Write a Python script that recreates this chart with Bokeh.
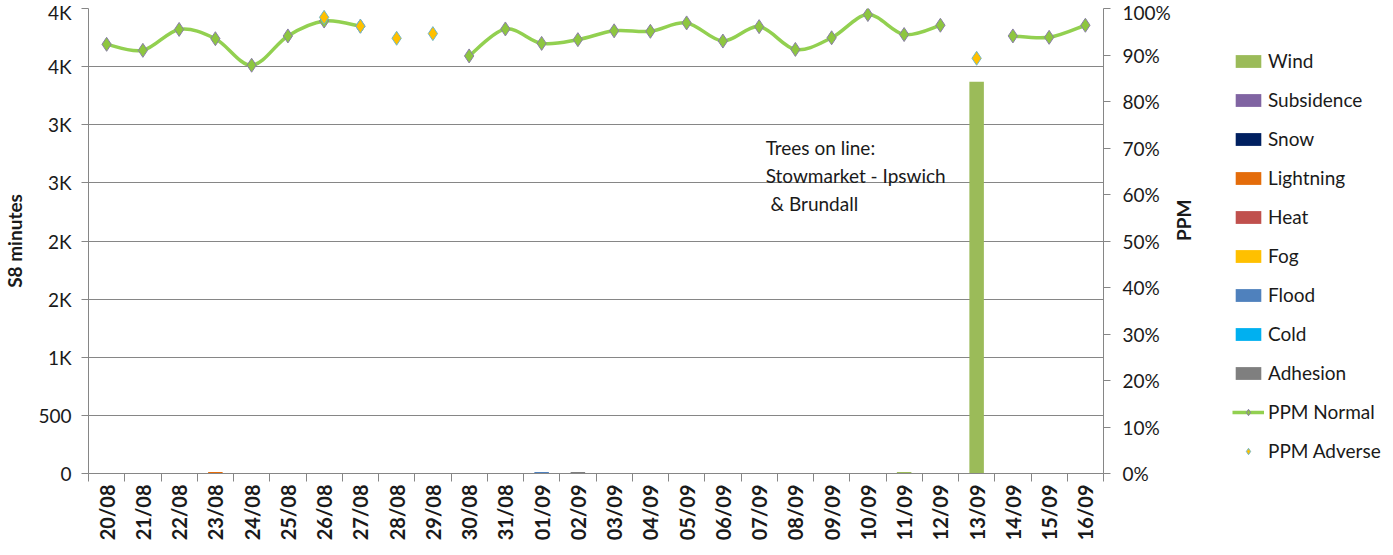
import math
from bokeh.plotting import figure
from bokeh.layouts import row
from bokeh.models import (FactorRange, Range1d, LinearAxis, FixedTicker,
                          Legend, LegendItem, Label, ColumnDataSource)
from bokeh.embed import file_html
from bokeh.resources import INLINE

NaN = float("nan")

dates = ["20/08", "21/08", "22/08", "23/08", "24/08", "25/08", "26/08", "27/08",
         "28/08", "29/08", "30/08", "31/08", "01/09", "02/09", "03/09", "04/09",
         "05/09", "06/09", "07/09", "08/09", "09/09", "10/09", "11/09", "12/09",
         "13/09", "14/09", "15/09", "16/09"]

# S8 minutes by cause
wind       = [0, 0, 0, 0, 0, 0, 0, 0, 0, 0, 0, 0, 0, 0, 0, 0, 0, 0, 0, 0, 0, 0, 12, 0, 3370, 0, 0, 0]
subsidence = [0] * 28
snow       = [0] * 28
lightning  = [0, 0, 0, 12, 0, 0, 0, 0, 0, 0, 0, 0, 0, 0, 0, 0, 0, 0, 0, 0, 0, 0, 0, 0, 0, 0, 0, 0]
heat       = [0] * 28
fog        = [0] * 28
flood      = [0, 0, 0, 0, 0, 0, 0, 0, 0, 0, 0, 0, 12, 0, 0, 0, 0, 0, 0, 0, 0, 0, 0, 0, 0, 0, 0, 0]
cold       = [0] * 28
adhesion   = [0, 0, 0, 0, 0, 0, 0, 0, 0, 0, 0, 0, 0, 12, 0, 0, 0, 0, 0, 0, 0, 0, 0, 0, 0, 0, 0, 0]

# PPM (%)
ppm_normal = [92.3, 91.0, 95.5, 93.5, 87.8, 94.1, 97.3, 96.2, NaN, NaN, 89.8, 95.6,
              92.5, 93.3, 95.2, 95.1, 96.9, 93.0, 96.1, 91.2, 93.7, 98.7, 94.4, 96.4,
              NaN, 94.1, 93.8, 96.4]
ppm_adverse = [NaN, NaN, NaN, NaN, NaN, NaN, 98.1, 96.2, 93.6, 94.6, NaN, NaN,
               NaN, NaN, NaN, NaN, NaN, NaN, NaN, NaN, NaN, NaN, NaN, NaN,
               89.3, NaN, NaN, NaN]
ppm_extreme = [NaN] * 28

y_ticks = [0, 500, 1000, 1500, 2000, 2500, 3000, 3500, 4000]
y_tick_labels = ["0", "500", "1K", "2K", "2K", "3K", "3K", "4K", "4K"]
ppm_ticks = [0, 10, 20, 30, 40, 50, 60, 70, 80, 90, 100]
ppm_tick_labels = ["0%", "10%", "20%", "30%", "40%", "50%", "60%", "70%", "80%", "90%", "100%"]

causes = ["Wind", "Subsidence", "Snow", "Lightning", "Heat", "Fog", "Flood", "Cold", "Adhesion"]
cause_values = [wind, subsidence, snow, lightning, heat, fog, flood, cold, adhesion]
cause_colors = ["#9BBB59", "#8064A2", "#002060", "#E46C0A", "#C0504D", "#FFC000",
                "#4F81BD", "#00B0F0", "#7F7F7F"]

FONT = "Lato"
GRID = "#868686"
TXT = "#1a1a1a"
LINE_C = "#92D050"
NORM_FILL, NORM_EDGE = "#8DC63F", "#8A7FA6"
ADV_FILL, ADV_EDGE = "#FFC000", "#6FB7C9"
EXT_C = "#FF0000"

p = figure(x_range=FactorRange(factors=dates), y_range=Range1d(0, 4000),
           frame_width=1015, frame_height=465, output_backend="svg", toolbar_location=None,
           x_axis_location=None, min_border_left=10, min_border_right=0,
           min_border_top=8, min_border_bottom=0)
p.outline_line_color = None
p.xgrid.visible = False
p.ygrid.ticker = FixedTicker(ticks=y_ticks)
p.ygrid.grid_line_color = GRID
p.extra_y_ranges = {"ppm": Range1d(0, 100)}

# left axis
ya = p.yaxis[0]
ya.ticker = FixedTicker(ticks=y_ticks)
ya.major_label_overrides = {t: l for t, l in zip(y_ticks, y_tick_labels)}
ya.major_tick_out = 7
ya.major_tick_in = 0
ya.minor_tick_line_color = None
ya.axis_line_color = GRID
ya.major_tick_line_color = GRID
ya.major_label_text_font = FONT
ya.major_label_text_font_size = "19px"
ya.major_label_text_color = TXT
ya.major_label_standoff = 10
ya.axis_label = "S8 minutes"
ya.axis_label_text_font = FONT
ya.axis_label_text_font_size = "19px"
ya.axis_label_text_font_style = "bold"
ya.axis_label_text_color = TXT
ya.axis_label_standoff = 9

# right axis
ra = LinearAxis(y_range_name="ppm", ticker=FixedTicker(ticks=ppm_ticks),
                major_label_overrides={t: l for t, l in zip(ppm_ticks, ppm_tick_labels)},
                major_tick_out=7, major_tick_in=0, minor_tick_line_color=None,
                axis_line_color=GRID, major_tick_line_color=GRID,
                major_label_text_font=FONT, major_label_text_font_size="19px",
                major_label_text_color=TXT, major_label_standoff=12,
                axis_label="PPM", axis_label_text_font=FONT, axis_label_text_font_size="19px",
                axis_label_text_font_style="bold", axis_label_text_color=TXT,
                axis_label_standoff=10, axis_label_orientation=math.pi / 2)
p.add_layout(ra, "right")

# bottom axis: labels at category centres, tick marks at category boundaries
n = len(dates)
centres = [i + 0.5 for i in range(n)]
xa = LinearAxis(ticker=FixedTicker(ticks=centres, minor_ticks=list(range(n + 1))),
                major_label_overrides={c: d for c, d in zip(centres, dates)},
                major_label_orientation=math.pi / 2, major_tick_line_color=None,
                major_tick_in=0, major_tick_out=8,
                minor_tick_in=0, minor_tick_out=8, minor_tick_line_color=GRID,
                axis_line_color=GRID, major_label_standoff=3,
                major_label_text_font=FONT, major_label_text_font_size="20px",
                major_label_text_font_style="bold", major_label_text_color=TXT)
p.add_layout(xa, "below")

# stacked bars
data = {"dates": dates}
for c, v in zip(causes, cause_values):
    data[c] = v
src = ColumnDataSource(data)
p.vbar_stack(causes, x="dates", width=0.4, color=cause_colors, line_color=None, source=src)

# smooth PPM normal line (bezier segments between consecutive valid points)
def ok(i):
    return 0 <= i < n and not math.isnan(ppm_normal[i])
seg = dict(x0=[], y0=[], x1=[], y1=[], cx0=[], cy0=[], cx1=[], cy1=[])
k = 1.0 / 6.0
for i in range(n - 1):
    if not (ok(i) and ok(i + 1)):
        continue
    a = i - 1 if ok(i - 1) else i
    d = i + 2 if ok(i + 2) else i + 1
    seg["x0"].append(centres[i]); seg["y0"].append(ppm_normal[i])
    seg["x1"].append(centres[i + 1]); seg["y1"].append(ppm_normal[i + 1])
    seg["cx0"].append(centres[i] + k * (centres[i + 1] - centres[a]))
    seg["cy0"].append(ppm_normal[i] + k * (ppm_normal[i + 1] - ppm_normal[a]))
    seg["cx1"].append(centres[i + 1] - k * (centres[d] - centres[i]))
    seg["cy1"].append(ppm_normal[i + 1] - k * (ppm_normal[d] - ppm_normal[i]))
p.bezier(x0="x0", y0="y0", x1="x1", y1="y1", cx0="cx0", cy0="cy0", cx1="cx1", cy1="cy1",
         source=ColumnDataSource(seg), line_color=LINE_C, line_width=3.5, y_range_name="ppm")
p.scatter(x=dates, y=ppm_normal, marker="diamond", size=14, fill_color=NORM_FILL,
          line_color=NORM_EDGE, line_width=1, y_range_name="ppm")
p.scatter(x=dates, y=ppm_adverse, marker="diamond", size=14, fill_color=ADV_FILL,
          line_color=ADV_EDGE, line_width=1, y_range_name="ppm")
p.scatter(x=dates, y=ppm_extreme, marker="diamond", size=12, fill_color=EXT_C,
          line_color=EXT_C, y_range_name="ppm")

note = Label(x=18.68, y=2900,
             text="Trees on line:\nStowmarket - Ipswich\n\u00a0& Brundall",
             text_font=FONT, text_font_size="19px", text_color=TXT,
             text_baseline="top", text_align="left", text_line_height=1.2)
p.add_layout(note)

# legend panel: a separate figure at the right whose swatch renderers hold one
# point each, placed outside its visible range so only the legend shows them
lg = figure(width=181, height=539, output_backend="svg", toolbar_location=None,
            x_axis_location=None, y_axis_location=None, x_range=Range1d(0, 1),
            y_range=Range1d(0, 1), min_border_left=0, min_border_right=0,
            min_border_top=0, min_border_bottom=0)
lg.outline_line_color = None
lg.xgrid.visible = False
lg.ygrid.visible = False
OFF = 5
items = []
for c, col in zip(causes, cause_colors):
    r = lg.vbar(x=[OFF], top=[1], width=0.1, fill_color=col, line_color=None)
    items.append(LegendItem(label=c, renderers=[r]))
lr = lg.line(x=[OFF, OFF + 1], y=[0.5, 0.5], line_color=LINE_C, line_width=3.5)
nr = lg.scatter(x=[OFF], y=[0.5], marker="diamond", size=12, fill_color=NORM_FILL,
                line_color=NORM_EDGE, line_width=1)
items.append(LegendItem(label="PPM Normal", renderers=[lr, nr]))
ar = lg.scatter(x=[OFF], y=[0.5], marker="diamond", size=12, fill_color=ADV_FILL,
                line_color=ADV_EDGE, line_width=1)
items.append(LegendItem(label="PPM Adverse", renderers=[ar]))
er = lg.scatter(x=[OFF], y=[0.5], marker="diamond", size=11, fill_color=EXT_C, line_color=EXT_C)
items.append(LegendItem(label="PPM Extreme", renderers=[er]))
legend = Legend(items=items, location=(23, -32), label_text_font=FONT,
                label_text_font_size="19px", label_text_color=TXT,
                glyph_width=32, glyph_height=16, label_height=20, spacing=16,
                padding=4, margin=0, border_line_color=None, background_fill_alpha=0,
                label_standoff=4)
lg.add_layout(legend, "center")

layout = row(p, lg)
open("out.html", "w").write(file_html(layout, INLINE))
